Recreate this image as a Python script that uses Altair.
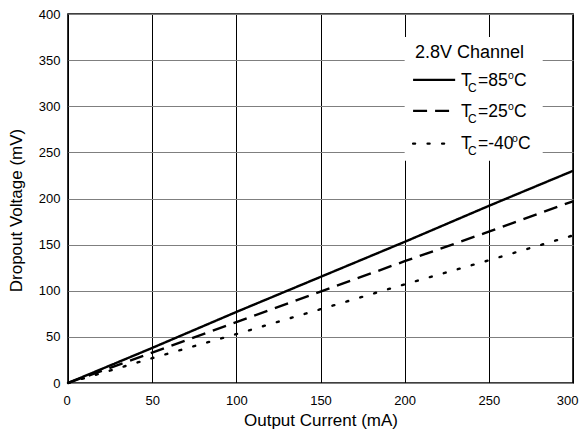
import altair as alt
import pandas as pd

# ---- data ----
current_ma = [0, 50, 100, 150, 200, 250, 300]
v_85 = [0, 38, 77, 115, 153, 192, 230]
v_25 = [0, 33, 66, 99, 132, 164, 197]
v_m40 = [0, 27, 53, 80, 107, 133, 160]
series_names = ["85", "25", "-40"]
x_ticks = [0, 50, 100, 150, 200, 250, 300]
y_ticks = [0, 50, 100, 150, 200, 250, 300, 350, 400]

FONT = "Liberation Sans"

rows = []
for name, vals in zip(series_names, [v_85, v_25, v_m40]):
    for x, y in zip(current_ma, vals):
        rows.append({"I": x, "V": y, "T": name})
df = pd.DataFrame(rows)

xs = alt.Scale(domain=[0, 300], nice=False)
ys = alt.Scale(domain=[0, 400], nice=False)

dash_map = {"85": [1, 0], "25": [14, 8], "-40": [2, 12.5]}

base_x_axis = alt.Axis(values=x_ticks, grid=True, gridColor="#000000", gridWidth=1,
                       gridOpacity=1, ticks=False, domain=False, labelPadding=11,
                       labelFlush=True, labelFlushOffset=5,
                       labelFont=FONT, labelFontSize=13, labelColor="#000",
                       title="Output Current (mA)", titleFont=FONT, titleFontSize=17,
                       titleFontWeight="normal", titleColor="#000", titlePadding=5)
base_y_axis = alt.Axis(values=y_ticks, grid=True, gridColor="#7f7f7f", gridWidth=1,
                       gridOpacity=1, ticks=False, domain=False, labelPadding=8,
                       labelFlush=False,
                       labelFont=FONT, labelFontSize=13, labelColor="#000",
                       title="Dropout Voltage (mV)", titleFont=FONT, titleFontSize=17,
                       titleFontWeight="normal", titleColor="#000", titlePadding=13,
                       titleY=196)

layers = []
for name in series_names:
    layers.append(
        alt.Chart(df[df["T"] == name]).mark_line(
            color="#000", strokeWidth=2.4, strokeDash=dash_map[name], strokeCap="butt" if name != "-40" else "round"
        ).encode(
            x=alt.X("I:Q", scale=xs, axis=base_x_axis),
            y=alt.Y("V:Q", scale=ys, axis=base_y_axis),
        )
    )

# legend box (white background hiding grid)
box = pd.DataFrame({"x": [200], "x2": [282], "y": [241], "y2": [375]})
box_layer = alt.Chart(box).mark_rect(color="white").encode(
    x=alt.X("x:Q", scale=xs), x2="x2:Q", y=alt.Y("y:Q", scale=ys), y2="y2:Q")

# legend samples
leg_lines = pd.DataFrame({
    "x": [205, 205, 205], "x2": [230, 230, 230],
    "y": [328.6, 295.0, 259.5], "T": series_names})
sample_layers = []
for i, name in enumerate(series_names):
    sample_layers.append(
        alt.Chart(leg_lines.iloc[[i]]).mark_rule(
            color="#000", strokeWidth=2.4, strokeDash=dash_map[name],
            strokeCap="butt" if name != "-40" else "round"
        ).encode(x=alt.X("x:Q", scale=xs), x2="x2:Q", y=alt.Y("y:Q", scale=ys))
    )

title_df = pd.DataFrame({"x": [206.1], "y": [352.4], "t": ["2.8V Channel"]})
title_layer = alt.Chart(title_df).mark_text(
    font=FONT, fontSize=18, align="left", baseline="alphabetic", color="#000"
).encode(x=alt.X("x:Q", scale=xs), y=alt.Y("y:Q", scale=ys), text="t:N")

text_layers = []
baselines = [322.2, 288.6, 254.0]
eq_texts = ["=85", "=25", "=-40"]
o_dx = [47, 47, 51]
for yb, eq, odx in zip(baselines, eq_texts, o_dx):
    d = pd.DataFrame({"x": [233.5], "y": [yb]})
    parts = [
        ("T", 17.5, 0, 0),
        ("C", 12, 7, 6),
        (eq, 17.5, 17, 0),
        ("o", 10.5, odx, -7),
        ("C", 17.5, odx + 6, 0),
    ]
    for txt, fs, dx, dy in parts:
        text_layers.append(
            alt.Chart(d).mark_text(
                font=FONT, fontSize=fs, align="left", baseline="alphabetic",
                color="#000", dx=dx, dy=dy, text=txt
            ).encode(x=alt.X("x:Q", scale=xs), y=alt.Y("y:Q", scale=ys))
        )

chart = alt.layer(box_layer, *layers, *sample_layers, title_layer, *text_layers).properties(
    width=505, height=369,
    autosize=alt.AutoSizeParams(type="none"),
    padding={"left": 60, "top": 6, "right": 6, "bottom": 49},
).configure_view(stroke="#000", strokeWidth=1.6)

chart.save("out.html", embed_options={"renderer": "svg", "actions": False})
